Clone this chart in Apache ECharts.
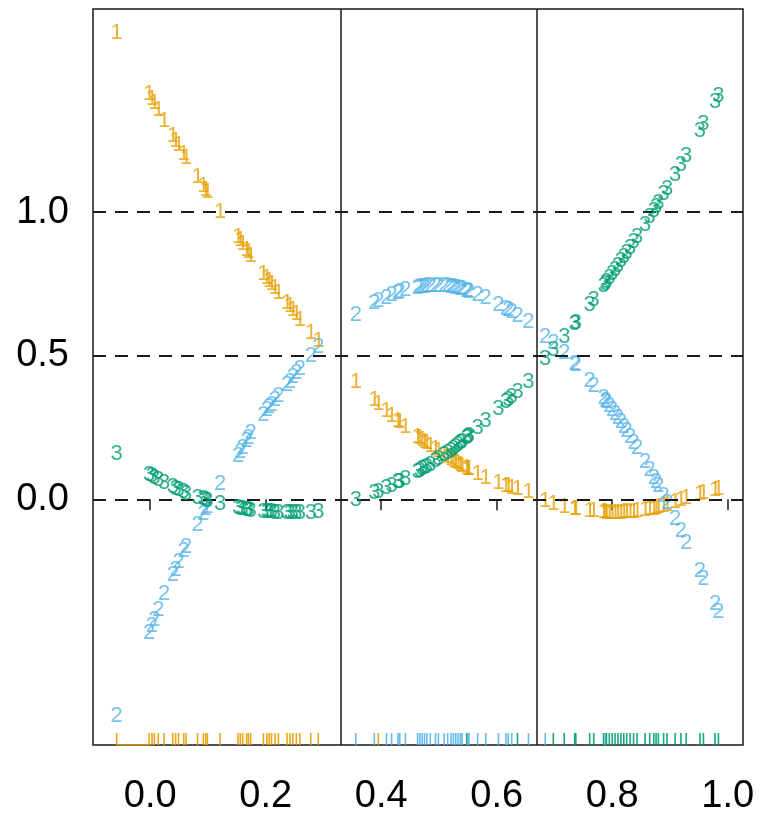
<!DOCTYPE html>
<html><head><meta charset="utf-8">
<script src="https://cdn.jsdelivr.net/npm/echarts@6/dist/echarts.min.js"></script>
<style>html,body{margin:0;padding:0;background:#fff}#c{width:768px;height:816px}</style>
</head><body><div id="c"></div><script>
// x positions of observations (three regions)
const xValues = [
 -0.058,-0.002,0.003,0.007,0.014,0.024,0.039,0.044,0.049,0.058,0.062,0.082,0.092,0.096,0.099,0.121,0.152,0.156,0.160,0.167,0.170,0.174,0.196,0.202,0.206,0.210,0.216,0.222,0.237,0.242,0.247,0.253,0.259,0.278,0.291,
 0.356,0.388,0.395,0.409,0.418,0.429,0.432,0.442,0.463,0.467,0.471,0.475,0.479,0.485,0.494,0.499,0.509,0.515,0.521,0.525,0.529,0.533,0.537,0.540,0.548,0.550,0.552,0.567,0.581,0.603,0.616,0.620,0.626,0.636,0.655,
 0.684,0.698,0.717,0.735,0.737,0.761,0.768,0.785,0.788,0.790,0.795,0.800,0.805,0.810,0.815,0.820,0.825,0.831,0.837,0.843,0.857,0.865,0.872,0.876,0.880,0.889,0.895,0.909,0.919,0.928,0.952,0.958,0.978,0.984
];
// values drawn with label "1"
const values1 = [
 1.625,1.413,1.395,1.380,1.355,1.319,1.267,1.250,1.233,1.202,1.189,1.123,1.091,1.078,1.069,1.000,0.915,0.903,0.890,0.870,0.860,0.848,0.785,0.770,0.760,0.750,0.735,0.720,0.685,0.672,0.660,0.645,0.625,0.580,0.550,
 0.410,0.346,0.333,0.307,0.292,0.273,0.268,0.251,0.218,0.212,0.206,0.200,0.195,0.186,0.174,0.167,0.154,0.146,0.139,0.134,0.130,0.125,0.120,0.117,0.108,0.106,0.104,0.089,0.076,0.058,0.048,0.045,0.041,0.035,0.024,
 -0.005,-0.015,-0.025,-0.032,-0.033,-0.040,-0.042,-0.045,-0.045,-0.046,-0.046,-0.046,-0.046,-0.046,-0.046,-0.045,-0.045,-0.044,-0.043,-0.042,-0.038,-0.035,-0.032,-0.030,-0.028,-0.023,-0.019,-0.010,-0.003,0.004,0.017,0.021,0.033,0.037
];
// values drawn with label "2"
const values2 = [
 -0.756,-0.465,-0.440,-0.420,-0.385,-0.330,-0.265,-0.245,-0.220,-0.180,-0.165,-0.090,-0.050,-0.035,-0.025,0.052,0.150,0.165,0.180,0.205,0.215,0.230,0.295,0.310,0.320,0.330,0.345,0.360,0.400,0.410,0.425,0.440,0.455,0.500,0.530,
 0.643,0.683,0.690,0.703,0.711,0.719,0.721,0.728,0.737,0.739,0.740,0.741,0.742,0.743,0.744,0.744,0.743,0.742,0.741,0.739,0.738,0.736,0.734,0.732,0.727,0.726,0.724,0.712,0.700,0.678,0.664,0.659,0.652,0.640,0.618,
 0.567,0.545,0.510,0.473,0.469,0.413,0.396,0.353,0.344,0.340,0.326,0.311,0.297,0.282,0.268,0.252,0.237,0.218,0.198,0.179,0.131,0.102,0.076,0.061,0.046,0.011,-0.013,-0.070,-0.112,-0.151,-0.251,-0.278,-0.366,-0.393
];
// values drawn with label "3"
const values3 = [
 0.157,0.085,0.080,0.075,0.068,0.057,0.042,0.037,0.032,0.025,0.020,0.005,0.000,-0.003,-0.005,-0.015,-0.030,-0.032,-0.034,-0.037,-0.038,-0.040,-0.043,-0.044,-0.045,-0.045,-0.046,-0.046,-0.047,-0.047,-0.047,-0.047,-0.047,-0.046,-0.045,
 -0.003,0.021,0.027,0.040,0.048,0.059,0.062,0.071,0.095,0.099,0.104,0.109,0.114,0.121,0.132,0.139,0.153,0.162,0.170,0.177,0.183,0.189,0.196,0.201,0.215,0.218,0.222,0.249,0.274,0.315,0.338,0.346,0.357,0.375,0.408,
 0.488,0.520,0.565,0.610,0.615,0.677,0.696,0.742,0.751,0.756,0.771,0.785,0.799,0.814,0.829,0.843,0.858,0.877,0.895,0.913,0.957,0.983,1.006,1.019,1.032,1.062,1.082,1.130,1.165,1.197,1.284,1.307,1.383,1.406
];
// group of each rug tick
const rugGroup = [
 1,1,1,1,1,1,1,1,1,1,1,1,1,1,1,1,1,1,1,1,1,1,1,1,1,1,1,1,1,1,1,1,1,1,1,
 2,2,1,2,2,2,2,2,2,2,2,2,2,2,2,2,2,2,2,2,2,2,2,2,3,2,2,2,2,2,2,2,2,3,2,
 2,3,3,3,3,3,3,3,2,3,3,3,3,3,3,3,3,3,3,3,3,3,3,3,3,3,3,3,3,3,3,3,3,3
];
const xTicks = [0, 0.2, 0.4, 0.6, 0.8, 1.0];
const yTicks = [0, 0.5, 1.0];
const regionBreaks = [1/3, 2/3];
const refLines = [0, 0.5, 1.0];
const groupLabels = ['1', '2', '3'];
const colors = ['#E69F00', '#56B4E9', '#009E73'];
const X_MIN = -0.0991, X_MAX = 1.0265, Y_MIN = -0.856, Y_MAX = 1.708;
const FONT = '"Liberation Sans", Arial, sans-serif';

function textSeries(values, k) {
  return {
    type: 'custom', coordinateSystem: 'cartesian2d', silent: true, animation: false, z: 3 + k,
    data: xValues.map((x, i) => [x, values[i]]),
    renderItem: (params, api) => {
      const p = api.coord([api.value(0), api.value(1)]);
      return { type: 'text', x: p[0], y: p[1],
        style: { text: groupLabels[k], fill: colors[k], opacity: 0.8,
          font: '22px ' + FONT, align: 'center', verticalAlign: 'middle' } };
    }
  };
}

const chart = echarts.init(document.getElementById('c'), null, { renderer: 'canvas' });
chart.setOption({
  animation: false,
  grid: { left: 93, right: 25, top: 9, bottom: 71, show: true, borderColor: '#1a1a1a', borderWidth: 1.5, backgroundColor: 'transparent' },
  xAxis: {
    type: 'value', min: X_MIN, max: X_MAX,
    splitLine: { show: false }, axisLine: { show: false },
    axisTick: { show: true, customValues: xTicks, length: 11, lineStyle: { color: '#1a1a1a', width: 1.5 } },
    axisLabel: { customValues: xTicks, formatter: v => v.toFixed(1), fontSize: 38, fontFamily: FONT, color: '#000', margin: 33 }
  },
  yAxis: {
    type: 'value', min: Y_MIN, max: Y_MAX,
    splitLine: { show: false }, axisLine: { show: false }, axisTick: { show: false },
    axisLabel: { customValues: yTicks, formatter: v => v.toFixed(1), fontSize: 38, fontFamily: FONT, color: '#000', margin: 24 }
  },
  series: [
    {
      type: 'line', silent: true, symbol: 'none', z: 2,
      data: [[xValues[0], Y_MIN], [xTicks[0], Y_MIN]],
      lineStyle: { color: colors[0], width: 1.5 },
      markLine: {
        silent: true, symbol: ['none', 'none'], label: { show: false },
        data: refLines.map(v => ({ yAxis: v, lineStyle: { type: [13, 9], color: '#1a1a1a', width: 1.8 } }))
          .concat(regionBreaks.map(v => ({ xAxis: v, lineStyle: { type: 'solid', color: '#1a1a1a', width: 1.5 } })))
      }
    },
    {
      type: 'custom', coordinateSystem: 'cartesian2d', silent: true, z: 2,
      data: xValues.map((x, i) => [x, Y_MIN, rugGroup[i]]),
      renderItem: (params, api) => {
        const p = api.coord([api.value(0), api.value(1)]);
        return { type: 'line', shape: { x1: p[0], y1: p[1], x2: p[0], y2: p[1] - 12 },
          style: { stroke: colors[api.value(2) - 1], lineWidth: 1.6, opacity: 0.9 } };
      }
    },
    textSeries(values1, 0),
    textSeries(values2, 1),
    textSeries(values3, 2)
  ]
});
</script></body></html>
